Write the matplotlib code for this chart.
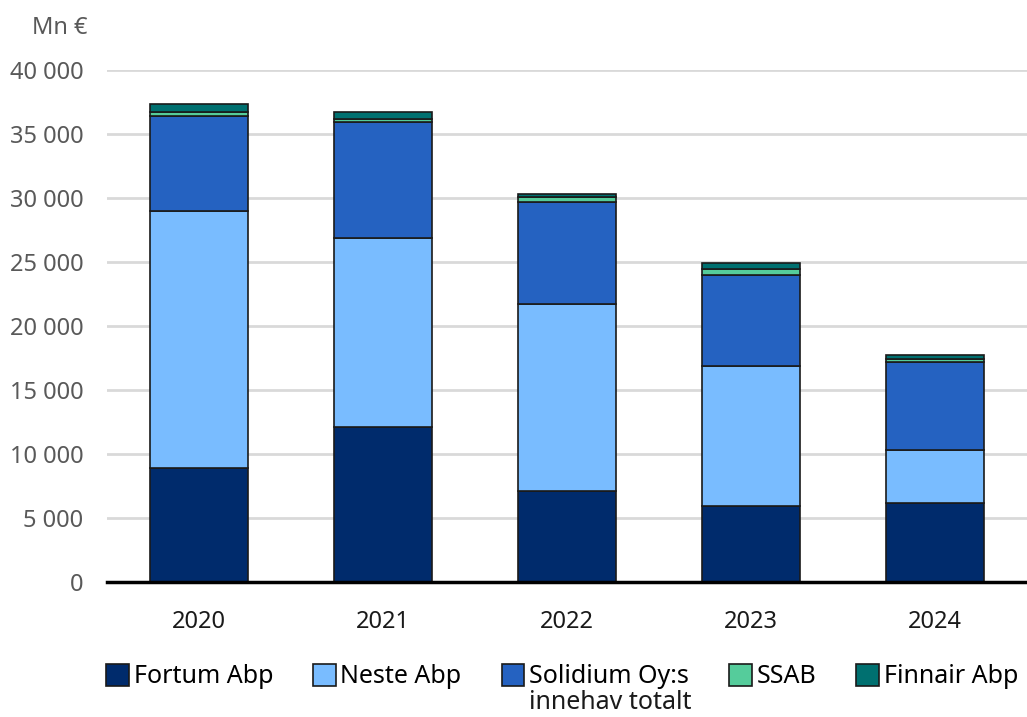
import matplotlib.pyplot as plt
from matplotlib.patches import Patch
import numpy as np

plt.rcParams["font.family"] = ["Noto Sans", "DejaVu Sans"]

YEARS = ["2020", "2021", "2022", "2023", "2024"]
FORTUM = [8900, 12100, 7100, 5950, 6200]
NESTE = [20100, 14800, 14600, 10950, 4100]
SOLIDIUM = [7400, 9000, 7950, 7100, 6900]
SSAB = [300, 310, 390, 470, 250]
FINNAIR = [650, 520, 310, 470, 250]

SERIES = [
    ("Fortum Abp", FORTUM, "#002B6C"),
    ("Neste Abp", NESTE, "#79BCFF"),
    ("Solidium Oy:s", SOLIDIUM, "#2562C1"),
    ("SSAB", SSAB, "#55CC9B"),
    ("Finnair Abp", FINNAIR, "#007070"),
]

TEXT_GREY = "#595959"

fig = plt.figure(figsize=(10.27, 7.17), dpi=100)
ax = fig.add_axes([107 / 1027, 1 - 582 / 717, 1 - 107 / 1027, 512 / 717])

x = np.arange(len(YEARS))
bottom = np.zeros(len(YEARS))
for name, vals, color in SERIES:
    vals = np.array(vals, dtype=float)
    ax.bar(x, vals, 0.53, bottom=bottom, color=color, edgecolor="#1a1a1a",
           linewidth=1.2, zorder=3, clip_on=False)
    bottom += vals

ax.set_xlim(-0.5, 4.5)
ax.set_ylim(0, 40000)
ax.set_yticks(np.arange(0, 40001, 5000))
ax.set_yticklabels([f"{v:,}".replace(",", " ") for v in range(0, 40001, 5000)])
ax.set_xticks(x)
ax.set_xticklabels(YEARS)
ax.tick_params(axis="y", length=0, pad=17, labelsize=17, labelcolor=TEXT_GREY)
ax.tick_params(axis="x", length=0, pad=20, labelsize=17, labelcolor="#1a1a1a")
ax.grid(axis="y", color="#d9d9d9", linewidth=2, zorder=0)
for s in ["top", "right", "left"]:
    ax.spines[s].set_visible(False)
ax.spines["bottom"].set_linewidth(2.5)
ax.spines["bottom"].set_color("#000000")
ax.spines["bottom"].set_zorder(4)

fig.text(88 / 1027, 1 - 28 / 717, "Mn €", ha="right", va="center",
         fontsize=17, color=TEXT_GREY)

handles = [Patch(facecolor=c, edgecolor="#1a1a1a", linewidth=1.2) for _, _, c in SERIES]
labels = [n for n, _, _ in SERIES]
leg = fig.legend(handles, labels, loc="upper left", bbox_to_anchor=(106 / 1027, 1 - 664 / 717),
                 ncol=5, frameon=False, fontsize=18, handlelength=0.9, handleheight=0.95,
                 handletextpad=0.2, columnspacing=1.6, borderaxespad=0, borderpad=0)

fig.canvas.draw()
solid_text = leg.get_texts()[2]
bb = solid_text.get_window_extent()
fig.text(bb.x0 / fig.bbox.width, (bb.y0 - 1) / fig.bbox.height, "innehav totalt",
         ha="left", va="top", fontsize=18, color="#1a1a1a")

fig.savefig("out.png", dpi=100)
